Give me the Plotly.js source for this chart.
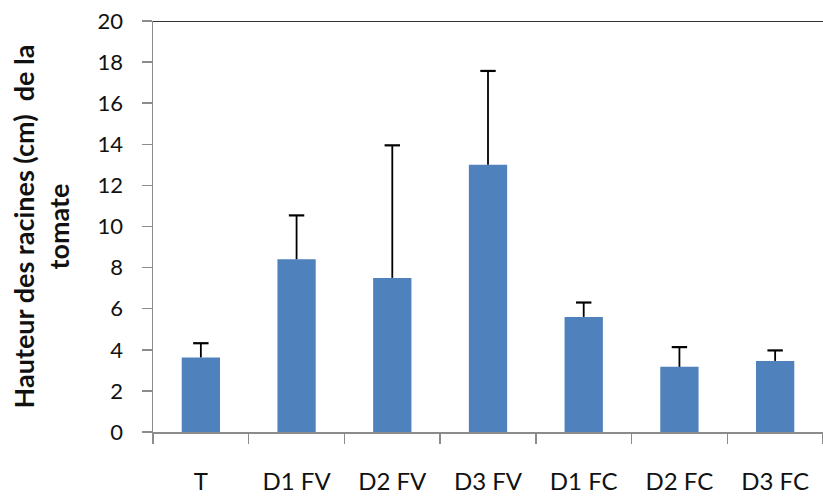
<!DOCTYPE html>
<html>
<head>
<meta charset="utf-8">
<script src="https://cdn.plot.ly/plotly-3.0.1.min.js"></script>
<style>html,body{margin:0;padding:0;background:#fff;}#chart{width:823px;height:497px;}</style>
</head>
<body>
<div id="chart"></div>
<script>
const categories = ["T", "D1 FV", "D2 FV", "D3 FV", "D1 FC", "D2 FC", "D3 FC"];
const meanHeight = [3.63, 8.41, 7.5, 13.0, 5.6, 3.17, 3.46];
const errorPlus = [0.69, 2.13, 6.45, 4.57, 0.7, 0.96, 0.51];
const yTicks = [0, 2, 4, 6, 8, 10, 12, 14, 16, 18, 20];

const barColor = "#4f81bd";
const errColor = "#000000";

const barTrace = {
  type: "bar",
  x: categories,
  y: meanHeight,
  marker: {color: barColor},
  hoverinfo: "x+y"
};

// upper error bars: stems from the bar top to mean + error
const stemX = [];
const stemY = [];
categories.forEach((c, i) => {
  stemX.push(c, c, null);
  stemY.push(meanHeight[i], meanHeight[i] + errorPlus[i], null);
});
const stemTrace = {
  type: "scatter",
  mode: "lines",
  x: stemX,
  y: stemY,
  line: {color: errColor, width: 1.8},
  hoverinfo: "skip",
  connectgaps: false
};

const capTrace = {
  type: "scatter",
  mode: "markers",
  x: categories,
  y: meanHeight.map((m, i) => m + errorPlus[i]),
  marker: {symbol: "line-ew", size: 11, color: errColor, line: {color: errColor, width: 2.2}},
  hoverinfo: "skip"
};

const layout = {
  width: 823,
  height: 497,
  margin: {l: 153, r: 0, t: 21, b: 65},
  paper_bgcolor: "#ffffff",
  plot_bgcolor: "#ffffff",
  bargap: 0.6,
  showlegend: false,
  font: {family: "Lato, 'Open Sans', sans-serif", color: "#111111"},
  xaxis: {
    type: "category",
    showline: true,
    linecolor: "#8c8c8c",
    linewidth: 1.5,
    ticks: "outside",
    tickson: "boundaries",
    ticklen: 10,
    tickcolor: "#8c8c8c",
    tickwidth: 1.5,
    ticklabelstandoff: 28,
    tickfont: {size: 24, family: "Lato, sans-serif", color: "#111111"},
    showgrid: false,
    zeroline: false
  },
  yaxis: {
    range: [0, 20],
    tickvals: yTicks,
    ticktext: yTicks.map(String),
    showline: true,
    linecolor: "#8c8c8c",
    linewidth: 1.5,
    ticks: "outside",
    ticklen: 10,
    tickcolor: "#8c8c8c",
    tickwidth: 1.5,
    ticklabelstandoff: 14,
    tickfont: {size: 22, family: "Lato, sans-serif", color: "#111111"},
    showgrid: false,
    zeroline: false,
    title: {
      text: "Hauteur des racines (cm)  de la<br>tomate",
      font: {size: 27, family: "Lato, sans-serif", color: "#111111", weight: "bold"},
      standoff: 20
    }
  },
  shapes: [{
    type: "line",
    xref: "paper",
    yref: "y",
    x0: 0,
    x1: 1,
    y0: 20,
    y1: 20,
    line: {color: "#333333", width: 2}
  }]
};

Plotly.newPlot("chart", [barTrace, stemTrace, capTrace], layout, {staticPlot: true, displayModeBar: false});
</script>
</body>
</html>
